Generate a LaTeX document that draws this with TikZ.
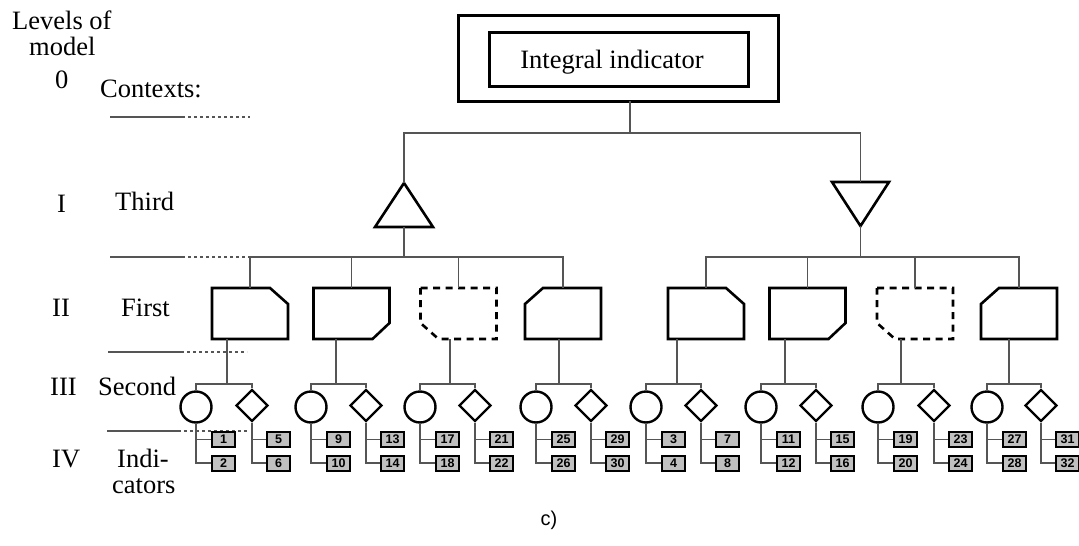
\documentclass[tikz,border=0pt]{standalone}
\usepackage{fontspec}
\setmainfont{Liberation Serif}
\newfontfamily\sansnum{Liberation Sans}
\usetikzlibrary{shapes.geometric}
\definecolor{wire}{HTML}{555555}
\definecolor{cellgray}{HTML}{C0C0C0}

% outlines of the first-level blocks, one per chamfered corner
\newcommand\chamTR[2][outline]{\draw[#1] (#2.north west) -- ([xshift=-18pt]#2.north east) -- ([yshift=-16pt]#2.north east) -- (#2.south east) -- (#2.south west) -- cycle;}
\newcommand\chamBR[2][outline]{\draw[#1] (#2.north west) -- (#2.north east) -- ([yshift=16pt]#2.south east) -- ([xshift=-17pt]#2.south east) -- (#2.south west) -- cycle;}
\newcommand\chamBL[2][outline]{\draw[#1] (#2.north west) -- (#2.north east) -- (#2.south east) -- ([xshift=18pt]#2.south west) -- ([yshift=16pt]#2.south west) -- cycle;}
\newcommand\chamTL[2][outline]{\draw[#1] ([xshift=18pt]#2.north west) -- (#2.north east) -- (#2.south east) -- (#2.south west) -- ([yshift=-16pt]#2.north west) -- cycle;}

\begin{document}
\begin{tikzpicture}[x=1pt,y=-1pt,
  wire/.style={draw=wire, line width=1.4pt},
  leveldot/.style={draw=wire, line width=1.4pt, dash pattern=on 3pt off 3pt},
  lvl/.style={anchor=base west, inner sep=0pt, font=\fontsize{26.5pt}{30pt}\selectfont},
  frame/.style={draw=black, line width=3pt, inner sep=0pt, outer sep=0pt},
  slot/.style={draw=none, inner sep=0pt, outer sep=0pt, minimum width=76pt, minimum height=51pt},
  outline/.style={draw=black, line width=2.6pt, line join=miter},
  dashedline/.style={outline, dash pattern=on 7pt off 5.5pt},
  circ/.style={circle, draw=black, line width=2.4pt, minimum size=31pt, inner sep=0pt},
  diam/.style={diamond, draw=black, line width=2.4pt, minimum width=32pt, minimum height=32pt, inner sep=0pt},
  cell/.style={draw=black, fill=cellgray, line width=2pt, minimum width=23pt, minimum height=15pt, inner sep=0pt,
    font=\sansnum\bfseries\fontsize{12.5pt}{13pt}\selectfont},
]
\fill[white] (0,0) rectangle (1079,546);
\useasboundingbox (0,0) rectangle (1079,546);

% level captions on the left
\node[lvl] (lv1) at (12,29) {Levels of};
\node[lvl] (lv2) at (29,55) {model};
\node[lvl] (n0) at (55,88) {0};
\node[lvl] (t0) at (100,97) {Contexts:};
\node[lvl] (n1) at (57,212) {I};
\node[lvl] (t1) at (115,210) {Third};
\node[lvl] (n2) at (52,316) {II};
\node[lvl] (t2) at (121,316) {First};
\node[lvl] (n3) at (50,395) {III};
\node[lvl] (t3) at (98,395) {Second};
\node[lvl] (n4) at (52,467) {IV};
\node[lvl] (t4) at (117,467) {Indi-};
\node[lvl] (t4b) at (112,493) {cators};

% level separators
\draw[wire] (110,117) -- (182,117);
\draw[leveldot] (182,117) -- (250,117);
\draw[wire] (110,257) -- (182,257);
\draw[leveldot] (182,257) -- (250,257);
\draw[wire] (108,352) -- (181,352);
\draw[leveldot] (181,352) -- (247,352);
\draw[wire] (107,431) -- (178,431);
\draw[leveldot] (178,431) -- (247,431);

% level 0: integral indicator
\node[frame, minimum width=320pt, minimum height=86pt] (outer) at (618,58) {};
\node[frame, minimum width=259pt, minimum height=54pt] (inner) at (618.5,59) {};
\node[lvl, anchor=base] (title) at (612,68) {Integral indicator};

% level I: contexts of the third kind
\node[draw=none, inner sep=0pt, outer sep=0pt, minimum width=58pt, minimum height=44pt] (tl) at (404,205) {};
\node[draw=none, inner sep=0pt, outer sep=0pt, minimum width=57pt, minimum height=44pt] (tr) at (860.5,204) {};
\draw[outline] (tl.north) -- (tl.south east) -- (tl.south west) -- cycle;
\draw[outline] (tr.north west) -- (tr.north east) -- (tr.south) -- cycle;

\coordinate (J0) at (630,133);
\draw[wire] (J0) -- (J0 |- outer.south);
\draw[wire] (tl.north) |- (J0) -| (tr.north);

% level II: first contexts
\node[slot] (F1) at (250,313.5) {};
\node[slot] (F2) at (351.5,313.5) {};
\node[slot] (F3) at (458.5,313.5) {};
\node[slot] (F4) at (563,313.5) {};
\node[slot] (F5) at (706,313.5) {};
\node[slot] (F6) at (807.5,313.5) {};
\node[slot] (F7) at (915,313.5) {};
\node[slot] (F8) at (1019,313.5) {};
\chamTR{F1}
\chamBR{F2}
\chamBL[dashedline]{F3}
\chamTL{F4}
\chamTR{F5}
\chamBR{F6}
\chamBL[dashedline]{F7}
\chamTL{F8}

\coordinate (JL) at (404,257);
\coordinate (JR) at (860.5,257);
\draw[wire] (tl.south) -- (JL);
\draw[wire] (F1.north) |- (JL) -| (F4.north);
\draw[wire] (F2.north) -- (F2.north |- JL);
\draw[wire] (F3.north) -- (F3.north |- JL);
\draw[wire] (tr.south) -- (JR);
\draw[wire] (F5.north) |- (JR) -| (F8.north);
\draw[wire] (F6.north) -- (F6.north |- JR);
\draw[wire] (F7.north) -- (F7.north |- JR);

% levels III and IV: second contexts and their indicators
\foreach \i/\cx/\dx/\px/\a/\b/\c/\d in {
  1/196/252/227/1/2/5/6,
  2/311/366/336/9/10/13/14,
  3/420/475/450/17/18/21/22,
  4/536/591/559/25/26/29/30,
  5/646/701/677/3/4/7/8,
  6/761/816/785/11/12/15/16,
  7/878/934/901/19/20/23/24,
  8/987/1041/1009/27/28/31/32}{
  \node[circ] (C\i) at (\cx,407) {};
  \node[diam] (D\i) at (\dx,405.5) {};
  \coordinate (P\i) at (\px,384);
  \draw[wire] (P\i) -- (P\i |- F\i.south);
  \draw[wire] (C\i.north) |- (P\i) -| (D\i.north);
  \node[cell] (ca\i) at (\cx+27.5,439.5) {\a};
  \node[cell] (cb\i) at (\cx+27.5,463) {\b};
  \node[cell] (da\i) at (\dx+26.5,439.5) {\c};
  \node[cell] (db\i) at (\dx+26.5,463) {\d};
  \draw[wire] (C\i.south) |- (ca\i.west);
  \draw[wire] (C\i.south) |- (cb\i.west);
  \draw[wire] (D\i.south) |- (da\i.west);
  \draw[wire] (D\i.south) |- (db\i.west);
}

\node[font=\sansnum\fontsize{20pt}{22pt}\selectfont] (cap) at (549,520) {c)};
\end{tikzpicture}
\end{document}
